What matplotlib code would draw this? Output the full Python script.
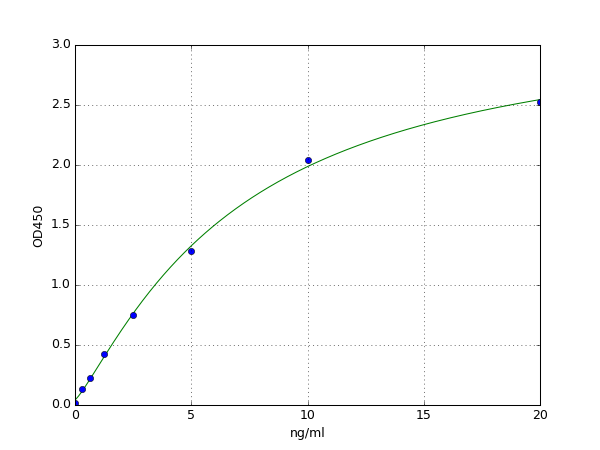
import numpy as np
import matplotlib
matplotlib.use("Agg")
import matplotlib.pyplot as plt

plt.style.use("classic")

conc = [0.0, 0.3125, 0.625, 1.25, 2.5, 5.0, 10.0, 20.0]
od = [0.014, 0.13, 0.225, 0.425, 0.747, 1.286, 2.039, 2.525]

x_label = "ng/ml"
y_label = "OD450"


def four_pl(x, p):
    a, b, c, d = p
    return d + (a - d) / (1.0 + (np.abs(x) / c) ** b)


def fit_4pl(x, y):
    x = np.asarray(x, float)
    y = np.asarray(y, float)
    p = np.array([0.0, 1.0, 8.0, 4.0])
    lam = 1e-2
    for _ in range(2000):
        r = y - four_pl(x, p)
        J = np.zeros((len(x), 4))
        for k in range(4):
            dp = np.zeros(4)
            dp[k] = 1e-6 * max(1.0, abs(p[k]))
            J[:, k] = (four_pl(x, p + dp) - four_pl(x, p)) / dp[k]
        A = J.T @ J
        g = J.T @ r
        step = np.linalg.solve(A + lam * np.diag(np.diag(A) + 1e-12), g)
        pn = p + step
        if pn[2] > 0 and np.sum((y - four_pl(x, pn)) ** 2) < np.sum(r ** 2):
            p = pn
            lam *= 0.5
        else:
            lam *= 4.0
    return p


params = fit_4pl(conc, od)
xs = np.linspace(0, 20, 400)
ys = four_pl(xs, params)

fig = plt.figure(figsize=(8, 6), dpi=75)
ax = fig.add_subplot(111)
ax.plot(xs, ys, "g-")
ax.plot(conc, od, "bo", markersize=6)
ax.set_xlim(0, 20)
ax.set_ylim(0, 3.0)
ax.set_yticks(np.arange(0, 3.01, 0.5))
ax.set_xticks([0, 5, 10, 15, 20])
ax.grid(True)
ax.set_xlabel(x_label)
ax.set_ylabel(y_label)
fig.savefig("out.png", dpi=75, facecolor="white")
